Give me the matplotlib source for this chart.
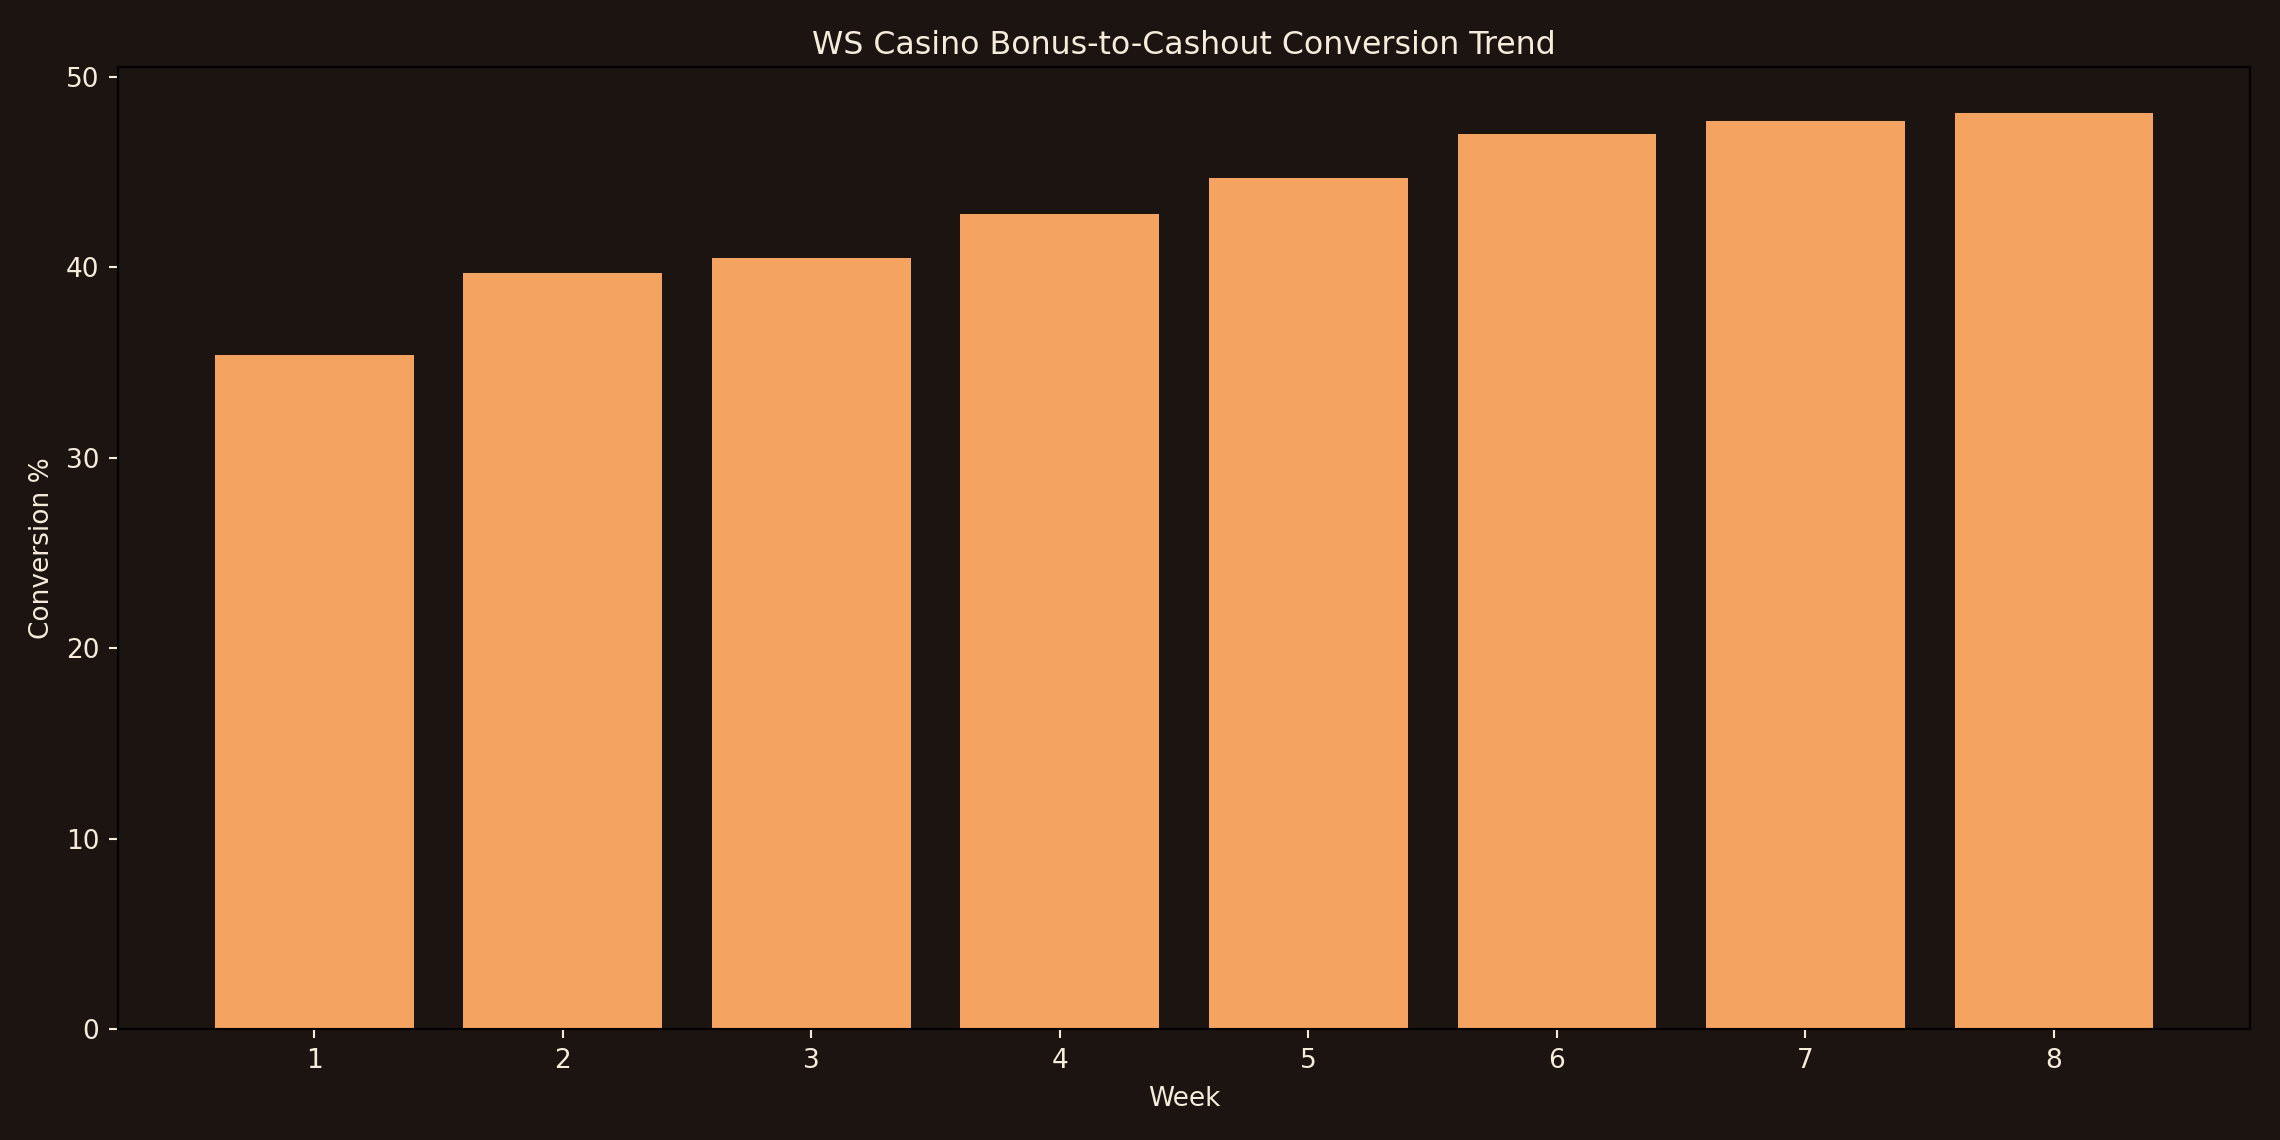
import matplotlib
matplotlib.use("Agg")
import matplotlib.pyplot as plt

weeks = [1, 2, 3, 4, 5, 6, 7, 8]
conversion = [35.4, 39.7, 40.5, 42.8, 44.7, 47.0, 47.7, 48.1]

bg = "#1c1411"
bar_color = "#f4a460"
text_color = "#f5ecdc"

fig, ax = plt.subplots(figsize=(12, 6), dpi=190)
fig.patch.set_facecolor(bg)
ax.set_facecolor(bg)

ax.bar(weeks, conversion, color=bar_color, width=0.8)
ax.set_xticks(weeks)
ax.set_title("WS Casino Bonus-to-Cashout Conversion Trend", color=text_color, fontsize=12, pad=5)
ax.set_xlabel("Week", color=text_color, fontsize=10, labelpad=4.5)
ax.set_ylabel("Conversion %", color=text_color, fontsize=10)
ax.tick_params(colors=text_color, labelsize=10)
for s in ax.spines.values():
    s.set_color("black")

fig.subplots_adjust(left=0.0517, right=0.987, bottom=0.097, top=0.941)
fig.savefig("out.png", dpi=190, facecolor=bg)
